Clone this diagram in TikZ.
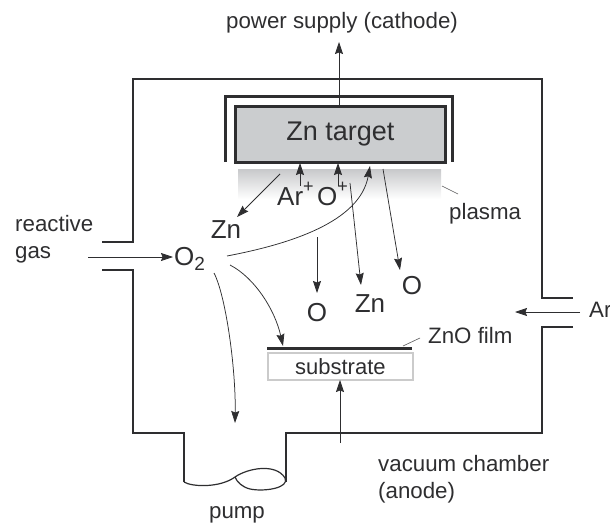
\documentclass[tikz,border=0pt]{standalone}
\usepackage{fontspec}
\setmainfont{Liberation Sans}
\usetikzlibrary{arrows.meta}
\definecolor{ink}{HTML}{2E2E30}
\definecolor{tgt}{HTML}{CBCDCF}
\definecolor{plas}{HTML}{C8C9CB}
\tikzset{
  wall/.style={draw=ink,line width=2.6pt,line join=miter},
  flow/.style={draw=ink,line width=0.75pt,-{Stealth[length=12pt,width=8pt,inset=1.5pt]}},
  thinline/.style={draw=ink!80,line width=0.6pt},
  lab/.style={text=ink,font=\fontsize{22.3}{24}\selectfont,anchor=base west,inner sep=0pt},
  big/.style={text=ink,font=\fontsize{26}{28}\selectfont,anchor=base,inner sep=0pt},
}
\begin{document}
\begin{tikzpicture}[x=1pt,y=-1pt]
\useasboundingbox (0,0) rectangle (610,524);
% plasma
\node[inner sep=0pt,minimum width=203pt,minimum height=30pt,anchor=north west,top color=plas,bottom color=white,shading angle=0] (plasma) at (238,169) {};
% chamber
\draw[wall] (102,242) -- (133,242) -- (133,79) -- (542,79) -- (542,298) -- (573,298);
\draw[wall] (573,327) -- (542,327) -- (542,433) -- (286,433) -- (286,482);
\draw[wall] (102,270) -- (133,270) -- (133,433) -- (184,433) -- (184,482);
\draw[draw=ink,line width=1.2pt] (184,482) .. controls (192,487) and (220,488) .. (235,477)
  .. controls (248,468) and (276,463) .. (285,478) .. controls (290,488) and (264,492) .. (250,489)
  .. controls (242,487) and (237,482) .. (235,477);
% shield and target
\draw[wall,line width=3pt] (225,162) -- (225,97) -- (452,97) -- (452,162);
\node[draw=ink,line width=3pt,fill=tgt,minimum width=210pt,minimum height=56pt,inner sep=0pt,anchor=north west,text=ink,font=\fontsize{27}{29}\selectfont] (target) at (234,105) {Zn target};
% substrate
\node[draw=ink!25,line width=1.8pt,minimum width=145pt,minimum height=27pt,inner sep=0pt,anchor=north west,text=ink,font=\fontsize{22}{24}\selectfont] (subs) at (267,352) {substrate};
\coordinate (filmL) at (267,348); \coordinate (filmR) at (412,348);
\draw[draw=ink,line width=3pt] (filmL) -- (filmR);
% labels
\node[lab,anchor=base] (power) at (342,29) {power supply (cathode)};
\node[lab] (reactive) at (15,231) {reactive};
\node[lab] (gas) at (15,258) {gas};
\node[big,anchor=base west] (otwo) at (174,265) {O\raisebox{-5pt}{\fontsize{19}{20}\selectfont 2}};
\node[big] (zna) at (226,238) {Zn};
\node[big,anchor=base west] (arp) at (277,205) {Ar\raisebox{13pt}{\fontsize{18}{20}\selectfont +}};
\node[big,anchor=base west] (op) at (317,205) {O\raisebox{13pt}{\fontsize{18}{20}\selectfont +}};
\node[big] (oa) at (317,321) {O};
\node[big] (znb) at (370,312) {Zn};
\node[big] (ob) at (412,294) {O};
\node[lab] (plasmalab) at (449,219) {plasma};
\node[lab] (film) at (428,343) {ZnO film};
\node[lab] (ar) at (589,317) {Ar};
\node[lab] (vac) at (378,471) {vacuum chamber};
\node[lab] (anode) at (378,498) {(anode)};
\node[lab,anchor=base] (pump) at (237,518) {pump};
% free ends
\coordinate (inL) at (88,257); \coordinate (o2in) at (173,257);
\coordinate (arR) at (580,312); \coordinate (arT) at (515,312);
\coordinate (pw) at (339,105); \coordinate (pwT) at (339,42);
\coordinate (a1) at (300,186); \coordinate (a1t) at (300,163);
\coordinate (a2) at (338,186); \coordinate (a2t) at (338,163);
\coordinate (z1) at (280,174); \coordinate (z1t) at (237,217);
\coordinate (d1) at (350,183); \coordinate (d1t) at (361,285);
\coordinate (d2) at (383,169); \coordinate (d2t) at (400,270);
\coordinate (d3) at (317,237); \coordinate (d3t) at (317,293);
\coordinate (c1) at (227,256); \coordinate (c1t) at (370,166);
\coordinate (c2) at (230,265); \coordinate (c2t) at (283,346);
\coordinate (c3) at (214,273); \coordinate (c3t) at (235,423);
\coordinate (up) at (340,443); \coordinate (upt) at (340,380);
\coordinate (pl1) at (442,186); \coordinate (pl2) at (458,194);
\coordinate (fl1) at (403,346); \coordinate (fl2) at (420,338);
% connectors
\draw[flow] (inL) -- (o2in);
\draw[flow] (arR) -- (arT);
\draw[flow] (pw) -- (pwT);
\draw[flow] (a1) -- (a1t);
\draw[flow] (a2) -- (a2t);
\draw[flow] (z1) -- (z1t);
\draw[flow] (d1) -- (d1t);
\draw[flow] (d2) -- (d2t);
\draw[flow] (d3) -- (d3t);
\draw[flow] (c1) .. controls (290,244) and (360,222) .. (c1t);
\draw[flow] (c2) .. controls (255,278) and (275,310) .. (c2t);
\draw[flow] (c3) .. controls (226,296) and (236,370) .. (c3t);
\draw[flow] (up) -- (upt);
\draw[thinline] (pl1) -- (pl2);
\draw[thinline] (fl1) -- (fl2);
\end{tikzpicture}
\end{document}
